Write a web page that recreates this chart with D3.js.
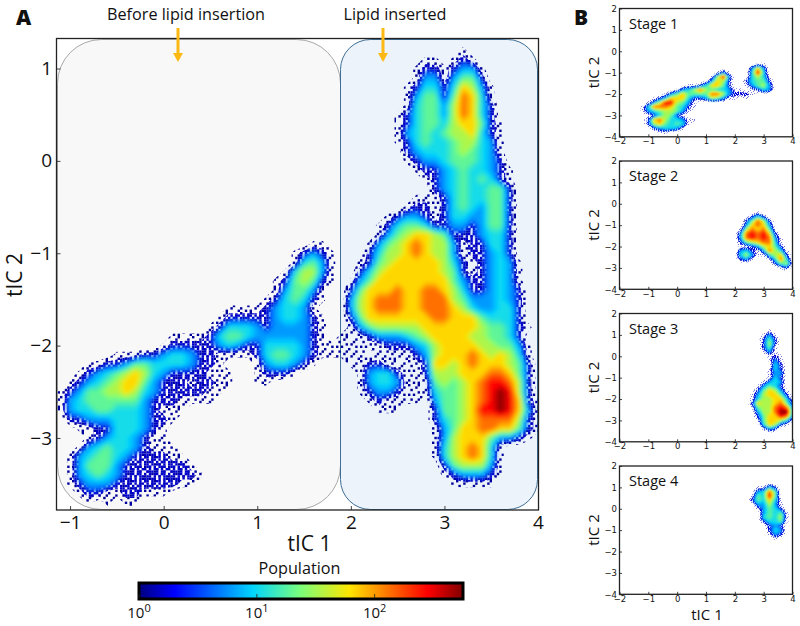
<!DOCTYPE html>
<html>
<head>
<meta charset="utf-8">
<script src="https://cdn.jsdelivr.net/npm/d3@7/dist/d3.min.js"></script>
<style>
  html, body { margin: 0; padding: 0; background: #fff; }
  svg { display: block; }
  text { fill: #111; font-family: "Open Sans", sans-serif; }
</style>
</head>
<body>
<svg id="chart" width="800" height="626"></svg>
<script>
// population classes: a char in the rows below is an index in this list
let levelChars = '.123456789a';
let levelPops = [0, 1, 2.5, 6, 10, 18, 32, 64, 128, 256, 512];

let mainTicksX = [-1, 0, 1, 2, 3, 4];
let mainTicksY = [-3, -2, -1, 0, 1];
let smallTicksX = [-2, -1, 0, 1, 2, 3, 4];
let smallTicksY = [-4, -3, -2, -1, 0, 1, 2];
let barTicks = [1, 10, 100];
let barExponents = ['0', '1', '2'];
let stageNames = ['Stage 1', 'Stage 2', 'Stage 3', 'Stage 4'];

// panel A: x -1.1 .. 4.0, y 1.3 .. -3.8, step 0.1 (spaces only for reading)
let mainRows = [
  '.......... .......... .......... .......... .......... ..',
  '.......... .......... .......... .......... ...1...... ..',
  '.......... .......... .......... .........1 1.121..... ..',
  '.......... .......... .......... ........12 212331.... ..',
  '.......... .......... .......... ........13 313552.... ..',
  '.......... .......... .......... .......124 4247631... ..',
  '.......... .......... .......... .......135 5258741... ..',
  '.......... .......... .......... .......145 5368742... ..',
  '.......... .......... .......... ......1245 5368742... ..',
  '.......... .......... .......... ......1245 54677521.. ..',
  '.......... .......... .......... ......1345 45667421.. ..',
  '.......... .......... .......... ......1245 44566431.. ..',
  '.......... .......... .......... .......234 44565431.. ..',
  '.......... .......... .......... .......123 34555432.. ..',
  '.......... .......... .......... ........12 234544321. ..',
  '.......... .......... .......... .........1 234545421. ..',
  '.......... .......... .......... .......... 234544552. ..',
  '.......... .......... .......... ........11 124544552. ..',
  '.......... .......... .......... .......122 124543552. ..',
  '.......... .......... .......... .....12332 124433552. ..',
  '.......... .......... .......... ....124554 223323552. ..',
  '.......... .......... .......... ....135677 652223442. ..',
  '.......... .......... .......11. ...1356787 663122442. ..',
  '.......... .......... .....12321 ...2466787 663122342. ..',
  '.......... .......... .....14531 ..12567777 7642123431 ..',
  '.......... .......... ....146631 ..24677777 7652123431 ..',
  '.......... .......... ...1256521 .135777777 7753223431 ..',
  '.......... .......... ...135531. .257778778 8764223432 ..',
  '.......... .......... ..1245421. .367888778 8865333432 ..',
  '.......... ........11 11234431.. .367888778 8876433442 ..',
  '.......... .......122 222344321. .257777777 8877754442 ..',
  '.......... ......1244 432333321. .135666667 7777765542 1.',
  '.......... ..11112455 433333321. 1112333456 7777665542 ..',
  '.......... .122222343 2244443211 1111122234 6777766553 1.',
  '......1112 2344322111 1245543211 111.111123 6777876764 1.',
  '...1122355 44443221.. .1344321.. .112211112 7767877765 2.',
  '..12345676 432222111. .12221.... ..13442112 6667778875 2.',
  '.123456775 322212211. .11....... ..13443111 5656789986 2.',
  '1235566764 32222211.. .......... ..12332111 4556789a96 2.',
  '1345555553 2221111... .......... ...121111. 3556789a97 21',
  '1344554443 2111...... .......... ....111... 2556799a97 31',
  '.223334443 221....... .......... .......... 2456788886 21',
  '..11224443 21........ .......... .......... 1357788775 21',
  '...1234432 11........ .......... .......... 1367775332 1.',
  '..13454432 111....... .......... .......... 14678741.. ..',
  '.134554322 2211...... .......... .......... 14678741.. ..',
  '.135553222 22221..... .......... .......... .2566631.. ..',
  '.134543222 222221.... .......... .......... .1233321.. ..',
  '.123332222 22211..... .......... .......... ..11111... ..',
  '..12211221 11........ .......... .......... .......... ..',
  '...1.1.11. .......... .......... .......... .......... ..',
  '.......... .......... .......... .......... .......... ..'
];
let mainStart = [-1.1, 1.3];

// panel B stages, step 0.2, each with the x and y of its first cell
let stage1Rows = [
  '...... ...... ...... ..11..',
  '...... ...... ...... .373..',
  '...... ...... .131.. .494..',
  '...... ...... 1693.. .4641.',
  '...... .....1 3762.. 24552.',
  '...... ..1124 7752.. 13563.',
  '...... 134686 544311 .1243.',
  '....13 575555 886322 21....',
  '..1247 774223 65311. 1.....',
  '.13699 6531.. ...... ......',
  '148887 5421.. ...... ......',
  '134566 531... ...... ......',
  '.12465 21.... ...... ......',
  '.27864 4311.. ...... ......',
  '.26754 541... ...... ......',
  '..2344 31.... ...... ......',
  '...11. ...... ...... ......'
];
let stage1Start = [-1.2, -0.6];

let stage2Rows = [
  '....1......',
  '...242.....',
  '..25862....',
  '..37873....',
  '.1687851...',
  '.3898972...',
  '.38989831..',
  '.25678841..',
  '.11236752..',
  '.342138641.',
  '.463114672.',
  '.231..1484.',
  '.......2561',
  '........12.'
];
let stage2Start = [2.0, -0.4];

let stage3Rows = [
  '...1....',
  '..131...',
  '..252...',
  '..262...',
  '..251...',
  '..131...',
  '...121..',
  '...131..',
  '....42..',
  '...142..',
  '...133..',
  '...142..',
  '..1343..',
  '.13542..',
  '.257631.',
  '1367752.',
  '14667741',
  '27667852',
  '15668983',
  '.3668aa4',
  '.2577983',
  '.1577641',
  '..47621.',
  '..132...'
];
let stage3Start = [2.6, 1.2];

let stage4Rows = [
  '...1...',
  '.1142..',
  '.3485..',
  '15495..',
  '254741.',
  '.33631.',
  '.13542.',
  '..35451',
  '..45461',
  '..24451',
  '...232.',
  '...243.',
  '...132.',
  '....1..'
];
let stage4Start = [2.6, 1.2];

// jet colormap
let jetStops = [0, 0.11, 0.35, 0.5, 0.65, 0.89, 1];
let jetColors = ['#00007f', '#0000ff', '#00d5ff', '#7cff79', '#ffe600', '#ff0000', '#7f0000'];
let logMax = 2.75;
let jet = d3.scaleLinear().domain(jetStops).range(jetColors).clamp(true);

// speckle textures for the thin fringe of the histogram, one tile of ten by ten bins
let sparseTile = [
  '#...#.....',
  '...#....#.',
  '.#.....#..',
  '....#.#...',
  '#.#.....#.',
  '.....#....',
  '.#..#...#.',
  '...#...#..',
  '#.....#...',
  '..#.#....#'
];
let denseTile = [
  '##.#.##.#.',
  '.#.##.#.##',
  '#.##.#.##.',
  '##.#.##.#.',
  '.##.#.###.',
  '#.#.##.#.#',
  '.###.#.##.',
  '#.#.##.##.',
  '.##.#.#.##',
  '##.##.#.#.'
];

let svg = d3.select('#chart');
let defs = svg.append('defs');

function addTile(id, tile, color, bin) {
  let pattern = defs.append('pattern')
    .attr('id', id)
    .attr('patternUnits', 'userSpaceOnUse')
    .attr('width', bin * 10)
    .attr('height', bin * 10);
  tile.forEach(function(row, j) {
    row.split('').forEach(function(c, i) {
      if (c === '#') {
        pattern.append('rect')
          .attr('x', i * bin).attr('y', j * bin)
          .attr('width', bin).attr('height', bin)
          .attr('fill', color);
      }
    });
  });
}
addTile('speck-main-1', sparseTile, '#00009a', 2.4);
addTile('speck-main-2', denseTile, '#0000c8', 2.4);
addTile('speck-small-1', sparseTile, '#7878d8', 1);
addTile('speck-small-2', denseTile, '#0000d8', 1);

let blurMain = defs.append('filter').attr('id', 'soft-main')
  .attr('x', '-5%').attr('y', '-5%').attr('width', '110%').attr('height', '110%');
blurMain.append('feGaussianBlur').attr('stdDeviation', 2.2);
let blurSmall = defs.append('filter').attr('id', 'soft-small')
  .attr('x', '-5%').attr('y', '-5%').attr('width', '110%').attr('height', '110%');
blurSmall.append('feGaussianBlur').attr('stdDeviation', 0.8);

// log10 of the population, with empty cells just under the first class
function rowsToGrid(rows) {
  let cleaned = rows.map(r => r.replace(/ /g, ''));
  let n = cleaned[0].length + 2;
  let m = cleaned.length + 2;
  let values = new Array(n * m).fill(-0.3);
  cleaned.forEach((row, j) => {
    row.split('').forEach((c, i) => {
      let pop = levelPops[levelChars.indexOf(c)];
      if (pop > 0) {
        values[(j + 1) * n + i + 1] = Math.log10(pop);
      }
    });
  });
  return { n: n, m: m, values: values };
}

function drawDensity(g, rows, start, step, x, y, clipId, kind) {
  let grid = rowsToGrid(rows);
  // contour points are in grid cells, cell centres sit at +0.5 and one cell of padding
  let toData = d3.geoTransform({
    point: function(px, py) {
      this.stream.point(x(start[0] + (px - 1.5) * step), y(start[1] - (py - 1.5) * step));
    }
  });
  let path = d3.geoPath(toData);
  let clipped = g.append('g').attr('clip-path', 'url(#' + clipId + ')');

  let fringe = d3.contours().size([grid.n, grid.m]).thresholds([-0.1, 0.2])(grid.values);
  clipped.append('g')
    .selectAll('path')
    .data(fringe)
    .enter()
    .append('path')
    .attr('d', path)
    .attr('fill', (d, i) => 'url(#speck-' + kind + '-' + (i + 1) + ')');

  let solid = d3.contours().size([grid.n, grid.m])
    .thresholds(d3.range(0.48, logMax, 0.05))(grid.values);
  clipped.append('g')
    .attr('filter', 'url(#soft-' + kind + ')')
    .selectAll('path')
    .data(solid)
    .enter()
    .append('path')
    .attr('d', path)
    .attr('fill', d => jet((d.value + 0.05) / logMax));
}

function minusFormat(d) {
  return d < 0 ? '\u2212' + Math.abs(d) : '' + d;
}

function drawAxes(g, x, y, ticksX, ticksY, font, fontSize, tickLen, padX, padY) {
  let bottom = d3.axisBottom(x).tickValues(ticksX).tickFormat(minusFormat)
    .tickSize(-tickLen).tickPadding(padX);
  let left = d3.axisLeft(y).tickValues(ticksY).tickFormat(minusFormat)
    .tickSize(-tickLen).tickPadding(padY);
  let b = g.append('g').attr('transform', 'translate(0,' + y.range()[0] + ')').call(bottom);
  let l = g.append('g').attr('transform', 'translate(' + x.range()[0] + ',0)').call(left);
  g.selectAll('.tick text')
    .style('font-family', font)
    .style('font-size', fontSize + 'px')
    .style('fill', '#111');
  g.selectAll('.tick line').attr('stroke', '#444');
  b.select('.domain').remove();
  l.select('.domain').remove();
  g.append('rect')
    .attr('x', x.range()[0]).attr('y', y.range()[1])
    .attr('width', x.range()[1] - x.range()[0])
    .attr('height', y.range()[0] - y.range()[1])
    .attr('fill', 'none').attr('stroke', '#222').attr('stroke-width', 1.3);
}

// panel A
let mainX = d3.scaleLinear().domain([-1.145, 4.005]).range([56.5, 538.5]);
let mainY = d3.scaleLinear().domain([-3.78, 1.325]).range([510, 38.5]);

svg.append('clipPath').attr('id', 'clip-main').append('rect')
  .attr('x', 56.5).attr('y', 38.5).attr('width', 482).attr('height', 471.5);

let panelA = svg.append('g');

panelA.append('rect')
  .attr('x', 57.5).attr('y', 39.5).attr('width', 283).attr('height', 470)
  .attr('rx', 44).attr('ry', 44)
  .attr('fill', '#f8f8f9').attr('stroke', '#a8a8a8').attr('stroke-width', 1);
panelA.append('rect')
  .attr('x', 340.5).attr('y', 39.5).attr('width', 197).attr('height', 470)
  .attr('rx', 30).attr('ry', 30)
  .attr('fill', '#ecf3fa').attr('stroke', '#3f6e96').attr('stroke-width', 1);

drawDensity(panelA, mainRows, mainStart, 0.1, mainX, mainY, 'clip-main', 'main');
drawAxes(panelA, mainX, mainY, mainTicksX, mainTicksY, '"Open Sans", sans-serif', 19, 4, 5.5, 4.5);

panelA.append('text').attr('x', 309.5).attr('y', 551)
  .attr('text-anchor', 'middle').style('font-size', '21px').text('tIC 1');
panelA.append('text')
  .attr('transform', 'translate(22,275) rotate(-90)')
  .attr('text-anchor', 'middle').style('font-size', '21px').text('tIC 2');

// region notes and arrows
svg.append('text').attr('x', 186).attr('y', 20)
  .attr('text-anchor', 'middle').style('font-size', '16.2px').text('Before lipid insertion');
svg.append('text').attr('x', 395).attr('y', 20)
  .attr('text-anchor', 'middle').style('font-size', '16.2px').text('Lipid inserted');

[178, 383].forEach(function(ax) {
  svg.append('line')
    .attr('x1', ax).attr('x2', ax).attr('y1', 28).attr('y2', 54)
    .attr('stroke', '#fdb913').attr('stroke-width', 3);
  svg.append('path')
    .attr('d', 'M' + (ax - 5) + ',53L' + (ax + 5) + ',53L' + ax + ',62Z')
    .attr('fill', '#fdb913');
});

svg.append('text').attr('x', 16).attr('y', 25)
  .style('font-weight', 800).style('font-size', '21px').text('A');
svg.append('text').attr('x', 574).attr('y', 25)
  .style('font-weight', 800).style('font-size', '21px').text('B');

// panel B
let stageRows = [stage1Rows, stage2Rows, stage3Rows, stage4Rows];
let stageStarts = [stage1Start, stage2Start, stage3Start, stage4Start];
let stageTops = [8.5, 161, 313.5, 466];
let stageHeight = 128.3;

stageNames.forEach(function(name, k) {
  let x = d3.scaleLinear().domain([-2, 4]).range([619.5, 792.5]);
  let y = d3.scaleLinear().domain([-4, 2]).range([stageTops[k] + stageHeight, stageTops[k]]);
  let id = 'clip-stage-' + k;
  svg.append('clipPath').attr('id', id).append('rect')
    .attr('x', 619.5).attr('y', stageTops[k]).attr('width', 173).attr('height', stageHeight);

  let g = svg.append('g');
  drawDensity(g, stageRows[k], stageStarts[k], 0.2, x, y, id, 'small');
  drawAxes(g, x, y, smallTicksX, smallTicksY, '"DejaVu Sans", sans-serif', 8.5, 2.5, 1.5, 2.5);

  g.append('text')
    .attr('x', 629).attr('y', stageTops[k] + 20)
    .style('font-size', '14.5px').text(name);
  g.append('text')
    .attr('transform', 'translate(599,' + (stageTops[k] + 64) + ') rotate(-90)')
    .attr('text-anchor', 'middle')
    .style('font-size', '15px').text('tIC 2');
});

svg.append('text').attr('x', 707).attr('y', 620)
  .attr('text-anchor', 'middle')
  .style('font-size', '15px').text('tIC 1');

// colorbar
let barX = d3.scaleLog().domain([1, Math.pow(10, logMax)]).range([139, 463]);
let gradient = defs.append('linearGradient').attr('id', 'jet-bar');
gradient.selectAll('stop')
  .data(jetStops)
  .enter()
  .append('stop')
  .attr('offset', d => d * 100 + '%')
  .attr('stop-color', (d, i) => jetColors[i]);

svg.append('rect')
  .attr('x', 139).attr('y', 583).attr('width', 324).attr('height', 16)
  .attr('fill', 'url(#jet-bar)').attr('stroke', '#000').attr('stroke-width', 3);

let barAxis = svg.append('g');
barAxis.selectAll('line')
  .data(barTicks)
  .enter()
  .append('line')
  .attr('x1', d => barX(d)).attr('x2', d => barX(d))
  .attr('y1', 594).attr('y2', 598)
  .attr('stroke', '#222').attr('stroke-width', 0.8);

let barLabels = barAxis.selectAll('text')
  .data(barTicks)
  .enter()
  .append('text')
  .attr('x', d => barX(d))
  .attr('y', 618)
  .attr('text-anchor', 'middle')
  .style('font-size', '15px');
barLabels.append('tspan').text('10');
barLabels.append('tspan')
  .attr('dy', -6).style('font-size', '11px')
  .text((d, i) => barExponents[i]);

svg.append('text').attr('x', 299.5).attr('y', 574)
  .attr('text-anchor', 'middle')
  .style('font-size', '16.2px').text('Population');
</script>
</body>
</html>
